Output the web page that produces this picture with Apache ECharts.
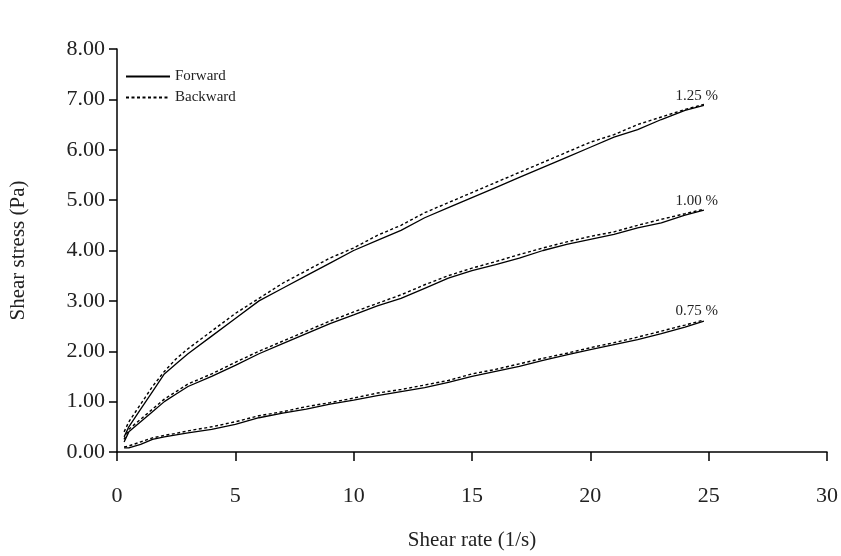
<!DOCTYPE html>
<html>
<head>
<meta charset="utf-8">
<script src="https://cdn.jsdelivr.net/npm/echarts@6/dist/echarts.min.js"></script>
<style>html,body{margin:0;padding:0;background:#fff}#c{width:841px;height:556px}</style>
</head>
<body>
<div id="c"></div>
<script>
var shearRate = [0.3, 0.5, 1, 1.5, 2, 2.5, 3, 4, 5, 6, 7, 8, 9, 10, 11, 12, 13, 14, 15, 16, 17, 18, 19, 20, 21, 22, 23, 24, 24.8];
var fwd125 = [0.30, 0.50, 0.85, 1.20, 1.55, 1.75, 1.95, 2.30, 2.65, 3.00, 3.25, 3.50, 3.75, 4.00, 4.20, 4.40, 4.65, 4.85, 5.05, 5.25, 5.45, 5.65, 5.85, 6.05, 6.25, 6.40, 6.60, 6.78, 6.88];
var bwd125 = [0.40, 0.60, 0.95, 1.30, 1.60, 1.85, 2.05, 2.40, 2.75, 3.05, 3.35, 3.60, 3.85, 4.05, 4.30, 4.50, 4.75, 4.95, 5.15, 5.35, 5.55, 5.75, 5.95, 6.15, 6.30, 6.50, 6.65, 6.80, 6.90];
var fwd100 = [0.20, 0.40, 0.60, 0.80, 1.00, 1.15, 1.30, 1.50, 1.72, 1.95, 2.15, 2.35, 2.55, 2.72, 2.90, 3.05, 3.25, 3.45, 3.60, 3.72, 3.85, 4.00, 4.12, 4.22, 4.32, 4.45, 4.55, 4.70, 4.80];
var bwd100 = [0.25, 0.45, 0.65, 0.85, 1.05, 1.20, 1.35, 1.55, 1.78, 2.00, 2.20, 2.40, 2.60, 2.78, 2.95, 3.12, 3.32, 3.50, 3.65, 3.78, 3.92, 4.05, 4.17, 4.28, 4.37, 4.50, 4.62, 4.73, 4.82];
var fwd075 = [0.08, 0.08, 0.15, 0.25, 0.30, 0.34, 0.38, 0.45, 0.55, 0.68, 0.77, 0.85, 0.95, 1.03, 1.12, 1.20, 1.28, 1.38, 1.50, 1.60, 1.70, 1.82, 1.93, 2.03, 2.13, 2.23, 2.35, 2.48, 2.60];
var bwd075 = [0.10, 0.12, 0.20, 0.28, 0.33, 0.37, 0.42, 0.50, 0.60, 0.72, 0.80, 0.90, 0.98, 1.07, 1.17, 1.24, 1.33, 1.42, 1.55, 1.64, 1.75, 1.86, 1.96, 2.07, 2.17, 2.28, 2.40, 2.52, 2.62];
var concLabels = ['1.25 %', '1.00 %', '0.75 %'];
var xTicks = {min: 0, max: 30, interval: 5};
var yTicks = {min: 0, max: 8, interval: 1};

var font = 'Liberation Serif';
function pairs(ys) {
  return shearRate.map(function (x, i) { return [x, ys[i]]; });
}
function series(name, ys, dashed, label) {
  var s = {
    name: name, type: 'line', data: pairs(ys), showSymbol: false, symbol: 'none',
    smooth: false, animation: false, silent: true,
    lineStyle: {color: '#000', width: dashed ? 1.4 : 1.3, type: dashed ? [3, 2.5] : 'solid'},
    itemStyle: {color: '#000'}
  };
  if (label) {
    s.endLabel = {show: true, formatter: label, align: 'right', verticalAlign: 'bottom',
      offset: [14, -1], distance: 0, fontFamily: font, fontSize: 15, color: '#222'};
  }
  return s;
}
var chart = echarts.init(document.getElementById('c'), null, {renderer: 'canvas'});
chart.setOption({
  backgroundColor: '#fff',
  animation: false,
  grid: {left: 116, right: 14, top: 49, bottom: 100, containLabel: false},
  legend: {
    orient: 'vertical', left: 120, top: 64, itemGap: 6, itemWidth: 44, itemHeight: 10,
    data: [{name: 'Forward'}, {name: 'Backward'}],
    itemStyle: {opacity: 0},
    textStyle: {fontFamily: font, fontSize: 15, color: '#222'},
    selectedMode: false
  },
  xAxis: {
    type: 'value', min: xTicks.min, max: xTicks.max, interval: xTicks.interval,
    name: 'Shear rate (1/s)', nameLocation: 'middle', nameGap: 78,
    nameTextStyle: {fontFamily: font, fontSize: 21, color: '#222'},
    axisLine: {show: true, lineStyle: {color: '#000', width: 1.5}},
    axisTick: {show: true, inside: false, length: 9, lineStyle: {color: '#000', width: 1.5}},
    axisLabel: {fontFamily: font, fontSize: 22, color: '#222', margin: 33},
    splitLine: {show: false}
  },
  yAxis: {
    type: 'value', min: yTicks.min, max: yTicks.max, interval: yTicks.interval,
    name: 'Shear stress (Pa)', nameLocation: 'middle', nameGap: 88, nameRotate: 90,
    nameTextStyle: {fontFamily: font, fontSize: 21, color: '#222'},
    axisLine: {show: true, lineStyle: {color: '#000', width: 1.5}},
    axisTick: {show: true, inside: false, length: 8, lineStyle: {color: '#000', width: 1.5}},
    axisLabel: {fontFamily: font, fontSize: 22, color: '#222', margin: 12,
      formatter: function (v) { return v.toFixed(2); }},
    splitLine: {show: false}
  },
  series: [
    series('Forward', fwd125, false, null),
    series('Backward', bwd125, true, concLabels[0]),
    series('Forward', fwd100, false, null),
    series('Backward', bwd100, true, concLabels[1]),
    series('Forward', fwd075, false, null),
    series('Backward', bwd075, true, concLabels[2])
  ]
});
</script>
</body>
</html>
